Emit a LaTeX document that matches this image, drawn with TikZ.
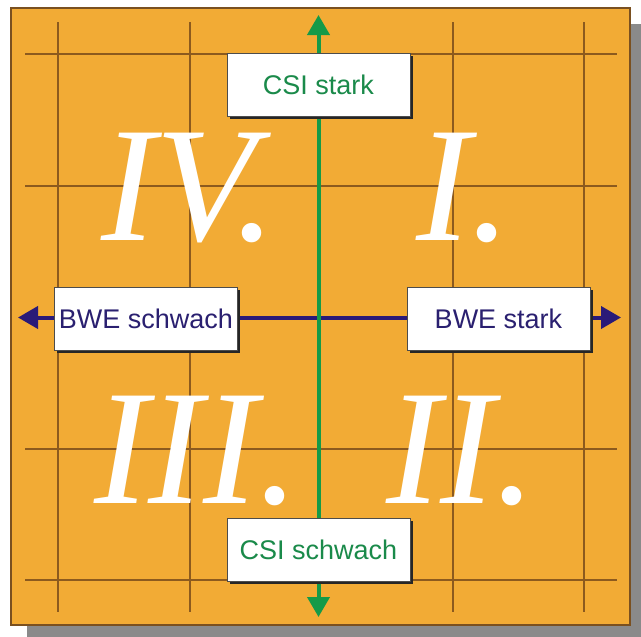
\documentclass[tikz,border=0pt]{standalone}
\usepackage{fontspec}
\newfontfamily\labelfont{Liberation Sans}
\newfontfamily\numfont{Liberation Serif}
\usetikzlibrary{arrows.meta,shadows}
\definecolor{panel}{HTML}{F2AB35}
\definecolor{panelrim}{HTML}{7A5020}
\definecolor{gridline}{HTML}{8C5A1E}
\definecolor{csigreen}{HTML}{159A48}
\definecolor{csitext}{HTML}{1A8A4A}
\definecolor{bweblue}{HTML}{2A1A78}
\definecolor{bwetext}{HTML}{2A2070}
\definecolor{backshadow}{HTML}{8A8A8A}
\tikzset{
  label box/.style={draw=black!70, line width=0.8pt, fill=white,
    minimum width=183pt, minimum height=63pt, inner sep=0pt,
    font=\labelfont\fontsize{27}{30}\selectfont,
    drop shadow={shadow xshift=2.5pt, shadow yshift=-2.5pt, fill=black!85, opacity=1}},
  csi box/.style={label box, text=csitext},
  bwe box/.style={label box, text=bwetext},
  quadrant/.style={anchor=base west, inner sep=0pt, text=white,
    font=\numfont\itshape\fontsize{164}{164}\selectfont},
  grid rule/.style={draw=gridline, line width=1.1pt},
  axis/.style={line width=4pt, -{Triangle[width=22pt,length=20pt]}}
}
\begin{document}
\begin{tikzpicture}[x=1pt,y=-1pt]
\useasboundingbox (0,0) rectangle (641,637);
% backdrop shadow and panel
\fill[backshadow] (27,24) rectangle (641,637);
\fill[panel] (11,8) rectangle (630,625);
\draw[panelrim, line width=1.2pt] (11,8) rectangle (630,625);
% grid
\foreach \gx in {58,190,453,584} \draw[grid rule] (\gx,22) -- (\gx,612);
\foreach \gy in {54,186,449,580} \draw[grid rule] (25,\gy) -- (617,\gy);
% quadrant numerals
\node[quadrant] (q4) at (101,240) {IV.};
\node[quadrant] (q1) at (416,240) {I.};
\node[quadrant] (q3) at (94,503) {III.};
\node[quadrant] (q2) at (386,503) {II.};
% axis ends
\coordinate (ctop) at (318.5,15);
\coordinate (cbot) at (318.5,617);
\coordinate (bleft) at (18,317.5);
\coordinate (bright) at (621,317.5);
\coordinate (centre) at (318.5,317.5);
% axes
\draw[axis, bweblue] (centre) -- (bleft);
\draw[axis, bweblue] (centre) -- (bright);
\draw[axis, csigreen] (centre) -- (ctop);
\draw[axis, csigreen] (centre) -- (cbot);
% labels
\node[csi box] (cs) at (318.5,84.5) {CSI stark};
\node[csi box] (cw) at (318.5,549.5) {CSI schwach};
\node[bwe box] (bw) at (146,318.5) {BWE schwach};
\node[bwe box] (bs) at (498.5,318.5) {BWE stark};
\end{tikzpicture}
\end{document}
